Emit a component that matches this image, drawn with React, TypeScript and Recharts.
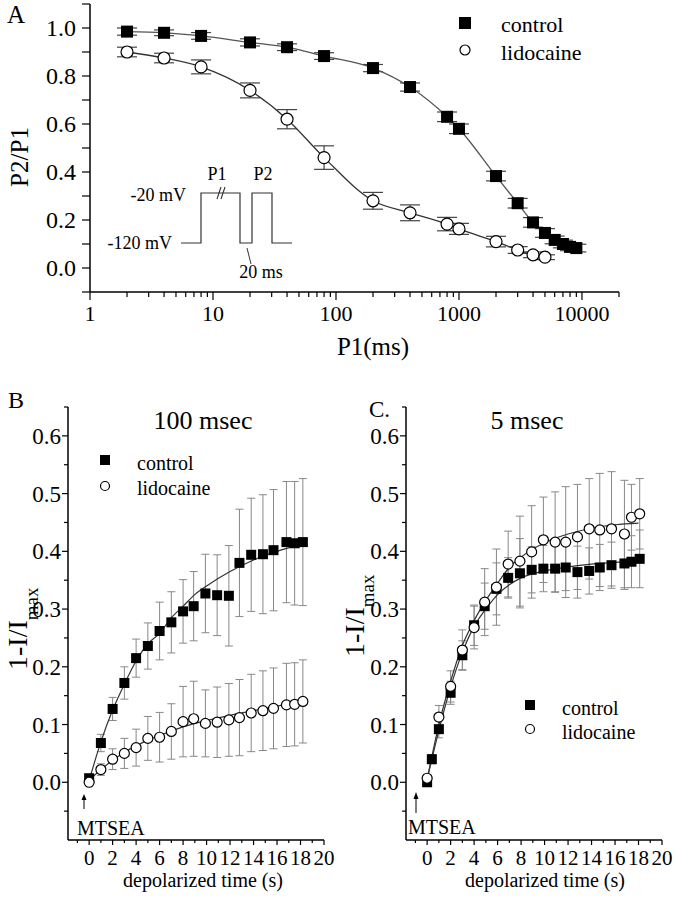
import React from 'react';
import { ComposedChart, Scatter, Line, XAxis, YAxis, ErrorBar } from 'recharts';

const FONT = '"Liberation Serif", "Times New Roman", Times, serif';

// ---------- Panel A : P2/P1 vs P1 (ms), log x ----------
const A_CTRL_X = [2, 4, 8, 20, 40, 80, 200, 400, 800, 1000, 2000, 3000, 4000, 5000, 6000, 7000, 8000, 9000];
const A_CTRL_Y = [0.985, 0.98, 0.967, 0.94, 0.92, 0.883, 0.833, 0.754, 0.63, 0.58, 0.383, 0.27, 0.19, 0.146, 0.117, 0.1, 0.088, 0.083];
const A_CTRL_E = [0.015, 0.012, 0.014, 0.015, 0.014, 0.014, 0.015, 0.017, 0.02, 0.02, 0.02, 0.02, 0.02, 0.018, 0.016, 0.016, 0.016, 0.016];

const A_LID_X = [2, 4, 8, 20, 40, 80, 200, 400, 800, 1000, 2000, 3000, 4000, 5000];
const A_LID_Y = [0.9, 0.875, 0.838, 0.74, 0.62, 0.46, 0.28, 0.23, 0.183, 0.163, 0.11, 0.075, 0.055, 0.045];
const A_LID_E = [0.02, 0.02, 0.029, 0.031, 0.04, 0.049, 0.035, 0.033, 0.028, 0.023, 0.022, 0.014, 0.012, 0.01];

const A_X_LABELS = [1, 10, 100, 1000, 10000];
const A_X_TICKS = [1, 2, 3, 4, 5, 6, 7, 8, 9, 10, 20, 30, 40, 50, 60, 70, 80, 90, 100, 200, 300, 400, 500, 600, 700, 800, 900,
  1000, 2000, 3000, 4000, 5000, 6000, 7000, 8000, 9000, 10000, 20000];
const A_Y_LABELS = [0, 0.2, 0.4, 0.6, 0.8, 1.0];
const A_Y_TICKS = [-0.1, 0, 0.1, 0.2, 0.3, 0.4, 0.5, 0.6, 0.7, 0.8, 0.9, 1.0, 1.1];

// ---------- Panel B : 100 msec ----------
const B_T = [0, 1, 2, 3, 4, 5, 6, 7, 8, 8.9, 9.9, 10.9, 11.9, 12.8, 13.8, 14.8, 15.7, 16.8, 17.5, 18.2];
const B_CTRL_Y = [0.007, 0.068, 0.127, 0.172, 0.215, 0.236, 0.262, 0.277, 0.296, 0.305, 0.327, 0.324, 0.323, 0.38, 0.394, 0.395, 0.402, 0.416, 0.414, 0.416];
const B_CTRL_E = [0.005, 0.015, 0.02, 0.028, 0.033, 0.04, 0.05, 0.053, 0.055, 0.06, 0.068, 0.07, 0.087, 0.093, 0.098, 0.103, 0.105, 0.105, 0.107, 0.11];
const B_LID_Y = [0, 0.022, 0.04, 0.05, 0.06, 0.076, 0.078, 0.088, 0.105, 0.11, 0.102, 0.104, 0.108, 0.112, 0.12, 0.124, 0.128, 0.134, 0.135, 0.14];
const B_LID_E = [0.004, 0.01, 0.018, 0.026, 0.032, 0.038, 0.043, 0.048, 0.061, 0.065, 0.058, 0.061, 0.063, 0.066, 0.067, 0.069, 0.07, 0.072, 0.072, 0.072];
const B_FIT_T = [0, 1, 2, 3, 4, 5, 6, 7, 8, 9, 10, 12, 14, 16, 18];
const B_CTRL_FIT = [0.003, 0.07, 0.125, 0.17, 0.21, 0.24, 0.258, 0.285, 0.305, 0.325, 0.34, 0.365, 0.385, 0.4, 0.412];
const B_LID_FIT = [0.003, 0.022, 0.038, 0.052, 0.063, 0.073, 0.081, 0.089, 0.096, 0.102, 0.107, 0.116, 0.124, 0.132, 0.14];

// ---------- Panel C : 5 msec ----------
const C_CTRL_T = [0, 0.4, 1, 2, 3, 4, 4.9, 5.9, 6.9, 7.9, 8.9, 9.9, 10.9, 11.8, 12.8, 13.8, 14.7, 15.7, 16.8, 17.4, 18.1];
const C_CTRL_Y = [0, 0.04, 0.092, 0.155, 0.22, 0.272, 0.305, 0.335, 0.354, 0.362, 0.368, 0.37, 0.37, 0.372, 0.364, 0.366, 0.372, 0.376, 0.379, 0.382, 0.387];
const C_CTRL_E = [0.005, 0.008, 0.015, 0.02, 0.025, 0.035, 0.04, 0.045, 0.035, 0.06, 0.04, 0.04, 0.04, 0.04, 0.045, 0.04, 0.04, 0.04, 0.045, 0.045, 0.05];
const C_LID_T = [0, 1, 2, 3, 4, 4.9, 5.9, 6.9, 7.9, 8.9, 9.9, 10.9, 11.8, 12.8, 13.8, 14.7, 15.7, 16.8, 17.4, 18.1];
const C_LID_Y = [0.007, 0.113, 0.166, 0.229, 0.268, 0.312, 0.338, 0.378, 0.383, 0.399, 0.42, 0.416, 0.416, 0.425, 0.439, 0.437, 0.439, 0.43, 0.459, 0.465];
const C_LID_E = [0.005, 0.02, 0.027, 0.035, 0.037, 0.058, 0.066, 0.057, 0.078, 0.08, 0.074, 0.087, 0.096, 0.091, 0.087, 0.098, 0.099, 0.093, 0.057, 0.061];
const C_FIT_T = [0, 1, 2, 3, 4, 5, 6, 7, 8, 10, 12, 14, 16, 18];
const C_CTRL_FIT = [0.005, 0.09, 0.165, 0.225, 0.27, 0.3, 0.325, 0.342, 0.354, 0.366, 0.373, 0.378, 0.381, 0.383];
const C_LID_FIT = [0.005, 0.1, 0.175, 0.237, 0.28, 0.315, 0.345, 0.372, 0.39, 0.415, 0.43, 0.44, 0.446, 0.449];

const BC_X_LABELS = [0, 2, 4, 6, 8, 10, 12, 14, 16, 18, 20];
const BC_X_TICKS = [-1, 0, 1, 2, 3, 4, 5, 6, 7, 8, 9, 10, 11, 12, 13, 14, 15, 16, 17, 18, 19, 20];
const BC_Y_LABELS = [0, 0.1, 0.2, 0.3, 0.4, 0.5, 0.6];
const BC_Y_TICKS = [-0.05, 0, 0.05, 0.1, 0.15, 0.2, 0.25, 0.3, 0.35, 0.4, 0.45, 0.5, 0.55, 0.6, 0.65];

const pts = (xs: number[], ys: number[], es?: number[]) =>
  xs.map((x, i) => ({ x, y: ys[i], e: es ? es[i] : 0 }));

const isIn = (list: number[], v: number) => list.some((l) => Math.abs(l - v) < 1e-9 * Math.max(1, Math.abs(l)));

const makeXTick = (labels: number[], major: number, minor: number, dy: number, fs: number, fmt: (v: number) => string) =>
  (props: any) => {
    const { x, y, payload } = props;
    const v = payload.value;
    const m = isIn(labels, v);
    return (
      <g>
        <line x1={x} y1={y} x2={x} y2={y + (m ? major : minor)} stroke="#000" strokeWidth={1.2} />
        {m && (
          <text x={x} y={y + dy} textAnchor="middle" fontSize={fs} fontFamily={FONT} fill="#000">
            {fmt(v)}
          </text>
        )}
      </g>
    );
  };

const makeYTick = (labels: number[], major: number, minor: number, gap: number, fs: number) =>
  (props: any) => {
    const { x, y, payload } = props;
    const v = payload.value;
    const m = isIn(labels, v);
    return (
      <g>
        <line x1={x - (m ? major : minor)} y1={y} x2={x} y2={y} stroke="#000" strokeWidth={1.2} />
        {m && (
          <text x={x - gap} y={y} dy="0.35em" textAnchor="end" fontSize={fs} fontFamily={FONT} fill="#000">
            {v.toFixed(1)}
          </text>
        )}
      </g>
    );
  };

const squareShape = (s: number) => (p: any) =>
  p.cx == null ? <g /> : <rect x={p.cx - s / 2} y={p.cy - s / 2} width={s} height={s} fill="#000" />;
const circleShape = (r: number) => (p: any) =>
  p.cx == null ? <g /> : <circle cx={p.cx} cy={p.cy} r={r} fill="#fff" stroke="#000" strokeWidth={1.2} />;

const aCtrl = pts(A_CTRL_X, A_CTRL_Y, A_CTRL_E);
const aLid = pts(A_LID_X, A_LID_Y, A_LID_E);
const bCtrl = pts(B_T, B_CTRL_Y, B_CTRL_E);
const bLid = pts(B_T, B_LID_Y, B_LID_E);
const bCtrlFit = pts(B_FIT_T, B_CTRL_FIT);
const bLidFit = pts(B_FIT_T, B_LID_FIT);
const cCtrl = pts(C_CTRL_T, C_CTRL_Y, C_CTRL_E);
const cLid = pts(C_LID_T, C_LID_Y, C_LID_E);
const cCtrlFit = pts(C_FIT_T, C_CTRL_FIT);
const cLidFit = pts(C_FIT_T, C_LID_FIT);

const axisLine = { stroke: '#000', strokeWidth: 1.5 };

function PanelA() {
  return (
    <ComposedChart width={675} height={380} margin={{ top: 4, right: 56, bottom: 0, left: 0 }}>
      <XAxis
        dataKey="x" type="number" scale="log" domain={[1, 20000]} allowDataOverflow
        ticks={A_X_TICKS} interval={0} height={88} tickSize={0} tickMargin={0} tickLine={false}
        axisLine={axisLine}
        tick={makeXTick(A_X_LABELS, 8, 5, 29, 22, (v) => String(v))}
      />
      <YAxis
        type="number" domain={[-0.1, 1.1]} allowDataOverflow ticks={A_Y_TICKS} interval={0}
        width={90} tickSize={0} tickMargin={0} tickLine={false} axisLine={axisLine}
        tick={makeYTick(A_Y_LABELS, 8, 8, 14, 24)}
      />
      <Scatter data={aCtrl} dataKey="y" shape={squareShape(12)} isAnimationActive={false}>
        <ErrorBar dataKey="e" direction="y" width={10} stroke="#444" strokeWidth={1.2} />
      </Scatter>
      <Scatter data={aLid} dataKey="y" shape={circleShape(6)} isAnimationActive={false}>
        <ErrorBar dataKey="e" direction="y" width={10} stroke="#444" strokeWidth={1.2} />
      </Scatter>
      <Line data={aCtrl} dataKey="y" type="monotone" dot={false} stroke="#555" strokeWidth={1.3} isAnimationActive={false} />
      <Line data={aLid} dataKey="y" type="monotone" dot={false} stroke="#333" strokeWidth={1.3} isAnimationActive={false} />
    </ComposedChart>
  );
}

function PanelBC(props: { w: number; yw: number; right: number; ctrl: any[]; lid: any[]; ctrlFit: any[]; lidFit: any[] }) {
  const { w, yw, right, ctrl, lid, ctrlFit, lidFit } = props;
  return (
    <ComposedChart width={w} height={519} margin={{ top: 27, right, bottom: 0, left: 0 }}>
      <XAxis
        dataKey="x" type="number" domain={[-1.8, 20]} allowDataOverflow ticks={BC_X_TICKS} interval={0}
        height={59} tickSize={0} tickMargin={0} tickLine={false} axisLine={axisLine}
        tick={makeXTick(BC_X_LABELS, 5, 3, 25, 21, (v) => String(v))}
      />
      <YAxis
        type="number" domain={[-0.1, 0.65]} allowDataOverflow ticks={BC_Y_TICKS} interval={0}
        width={yw} tickSize={0} tickMargin={0} tickLine={false} axisLine={axisLine}
        tick={makeYTick(BC_Y_LABELS, 6, 4, 7, 23)}
      />
      <Scatter data={ctrl} dataKey="y" shape={squareShape(10)} isAnimationActive={false}>
        <ErrorBar dataKey="e" direction="y" width={4} stroke="#888" strokeWidth={1} />
      </Scatter>
      <Scatter data={lid} dataKey="y" shape={circleShape(5)} isAnimationActive={false}>
        <ErrorBar dataKey="e" direction="y" width={4} stroke="#888" strokeWidth={1} />
      </Scatter>
      <Line data={ctrlFit} dataKey="y" type="monotone" dot={false} stroke="#333" strokeWidth={1.2} isAnimationActive={false} />
      <Line data={lidFit} dataKey="y" type="monotone" dot={false} stroke="#333" strokeWidth={1.2} isAnimationActive={false} />
    </ComposedChart>
  );
}

const T = (p: any) => <text fontFamily={FONT} fill="#000" {...p} />;

function Overlay() {
  return (
    <svg width={675} height={899} style={{ position: 'absolute', left: 0, top: 0, pointerEvents: 'none' }}>
      {/* Panel A */}
      <T x={7} y={23} fontSize={25}>A</T>
      <T x={28} y={157} fontSize={25} textAnchor="middle" transform="rotate(-90 28 157)">P2/P1</T>
      <T x={373} y={355} fontSize={25} textAnchor="middle">P1(ms)</T>
      <rect x={459} y={17} width={12} height={12} fill="#000" />
      <T x={501} y={32} fontSize={22}>control</T>
      <circle cx={465} cy={50} r={5} fill="#fff" stroke="#000" strokeWidth={1.2} />
      <T x={501} y={60} fontSize={22}>lidocaine</T>
      {/* inset protocol */}
      <polyline
        points="181,243 201,243 201,193 240,193 240,243 252,243 252,193 272,193 272,243 292,243"
        fill="none" stroke="#333" strokeWidth={1.2}
      />
      <line x1={217} y1={199} x2={221} y2={187} stroke="#333" strokeWidth={1.1} />
      <line x1={221} y1={199} x2={225} y2={187} stroke="#333" strokeWidth={1.1} />
      <line x1={247} y1={248} x2={251} y2={264} stroke="#333" strokeWidth={1} />
      <T x={217} y={180} fontSize={18} textAnchor="middle">P1</T>
      <T x={263} y={180} fontSize={18} textAnchor="middle">P2</T>
      <T x={186} y={201} fontSize={18} textAnchor="end">-20 mV</T>
      <T x={172} y={249} fontSize={18} textAnchor="end">-120 mV</T>
      <T x={261} y={278} fontSize={18} textAnchor="middle">20 ms</T>

      {/* Panel B */}
      <T x={8} y={408} fontSize={24}>B</T>
      <T x={203} y={429} fontSize={26} textAnchor="middle">100 msec</T>
      <T x={27} y={670} fontSize={28} transform="rotate(-90 27 670)">
        1-I/I<tspan dy={11} fontSize={19}>max</tspan>
      </T>
      <rect x={100} y={455} width={10} height={10} fill="#000" />
      <T x={137} y={470} fontSize={20}>control</T>
      <circle cx={105} cy={486} r={4.5} fill="#fff" stroke="#000" strokeWidth={1.2} />
      <T x={137} y={495} fontSize={20}>lidocaine</T>
      <line x1={84} y1={809} x2={84} y2={798} stroke="#000" strokeWidth={1} />
      <polygon points="81.5,800 84,794 86.5,800" fill="#000" />
      <T x={77} y={835} fontSize={20}>MTSEA</T>
      <T x={203} y={887} fontSize={20} textAnchor="middle">depolarized time (s)</T>

      {/* Panel C */}
      <T x={369} y={417} fontSize={23}>C.</T>
      <T x={527} y={429} fontSize={26} textAnchor="middle">5 msec</T>
      <T x={364} y={657} fontSize={28} transform="rotate(-90 364 657)">
        1-I/I<tspan dy={10} fontSize={19}>max</tspan>
      </T>
      <rect x={525} y={700} width={10} height={10} fill="#000" />
      <T x={562} y={715} fontSize={20}>control</T>
      <circle cx={530} cy={729} r={4.5} fill="#fff" stroke="#000" strokeWidth={1.2} />
      <T x={562} y={739} fontSize={20}>lidocaine</T>
      <line x1={416} y1={813} x2={416} y2={797} stroke="#000" strokeWidth={1} />
      <polygon points="413.5,799 416,792 418.5,799" fill="#000" />
      <T x={408} y={834} fontSize={20}>MTSEA</T>
      <T x={545} y={887} fontSize={20} textAnchor="middle">depolarized time (s)</T>
    </svg>
  );
}

export default function App() {
  return (
    <div style={{ position: 'absolute', left: 0, top: 0, width: 675, height: 899, background: '#fff', fontFamily: FONT }}>
      <div style={{ position: 'absolute', left: 0, top: 0 }}>
        <PanelA />
      </div>
      <div style={{ position: 'absolute', left: 0, top: 380 }}>
        <PanelBC w={340} yw={68} right={16} ctrl={bCtrl} lid={bLid} ctrlFit={bCtrlFit} lidFit={bLidFit} />
      </div>
      <div style={{ position: 'absolute', left: 340, top: 380 }}>
        <PanelBC w={335} yw={66} right={13} ctrl={cCtrl} lid={cLid} ctrlFit={cCtrlFit} lidFit={cLidFit} />
      </div>
      <Overlay />
    </div>
  );
}
